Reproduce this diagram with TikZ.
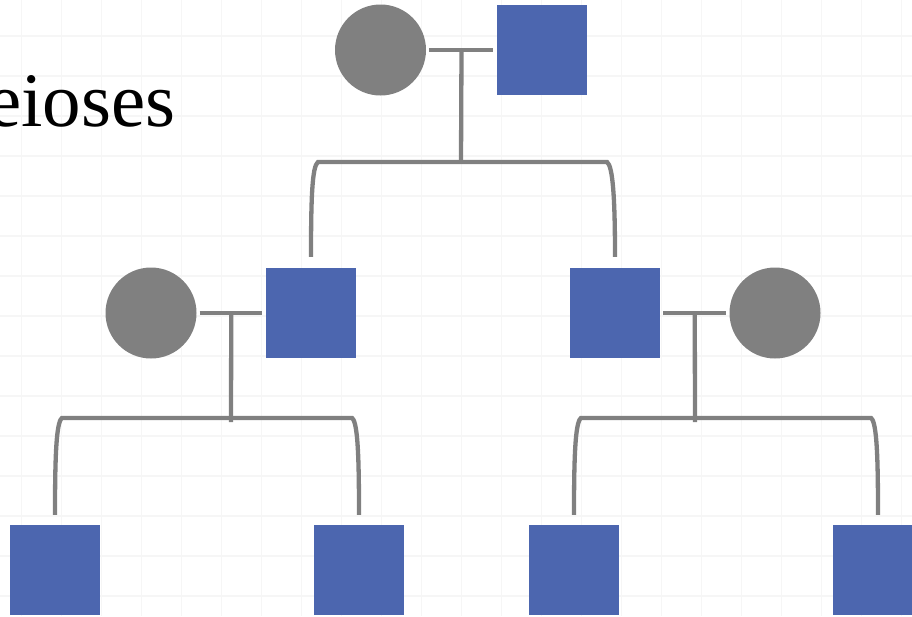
\documentclass[tikz,border=0pt]{standalone}
\usepackage{fontspec}
\setmainfont{Liberation Serif}
\definecolor{pblue}{HTML}{4C66AF}
\definecolor{pgray}{HTML}{808080}
\definecolor{gridc}{HTML}{F6F6F6}
\begin{document}
\begin{tikzpicture}[x=1pt,y=-1pt,
  male/.style={rectangle,fill=pblue,draw=none,minimum size=90pt,inner sep=0pt},
  female/.style={circle,fill=pgray,draw=none,minimum size=91pt,inner sep=0pt},
  link/.style={draw=pgray,line width=4.3pt},
  gridl/.style={draw=gridc,line width=1.5pt}]
\useasboundingbox (0,0) rectangle (912,616);
\fill[white] (0,0) rectangle (912,616);
% background grid
\foreach \gx in {21.7,61.7,...,912} {\draw[gridl] (\gx,0) -- (\gx,616);}
\foreach \gy in {36,76,...,616} {\draw[gridl] (0,\gy) -- (912,\gy);}
% title text
\node[anchor=base west,inner sep=0pt,font=\fontsize{77}{84}\selectfont] (title) at (-13,126) {eioses};
% generation 1
\node[female] (g1f) at (380.5,50) {};
\node[male] (g1m) at (542,50) {};
% generation 2
\node[female] (g2lf) at (151,313) {};
\node[male] (g2lm) at (311,313) {};
\node[male] (g2rm) at (615,313) {};
\node[female] (g2rf) at (775,313) {};
% generation 3
\node[male] (c1) at (55,570) {};
\node[male] (c2) at (359,570) {};
\node[male] (c3) at (574,570) {};
\node[male] (c4) at (878,570) {};
% marriage lines
\draw[link,shorten <=3pt,shorten >=4pt] (g1f.east) -- (g1m.west) coordinate[pos=0.5] (m1);
\draw[link,shorten <=3pt,shorten >=4pt] (g2lf.east) -- (g2lm.west) coordinate[pos=0.5] (m2);
\draw[link,shorten <=3pt,shorten >=3pt] (g2rm.east) -- (g2rf.west) coordinate[pos=0.5] (m3);
% descent lines
\coordinate (s1) at (461,162);
\coordinate (s2) at (231,422);
\coordinate (s3) at (695,422);
\draw[link] (m1) -- (s1);
\draw[link] (m2) -- (s2);
\draw[link] (m3) -- (s3);
% sibling bars
\coordinate (l1) at ([yshift=11pt]g2lm.north);
\coordinate (r1) at ([yshift=11pt]g2rm.north);
\draw[link] (l1) .. controls (311,200) and (312,166) .. (318,162) -- (607,162) .. controls (613,166) and (615,200) .. (r1);
\coordinate (l2) at ([yshift=10pt]c1.north);
\coordinate (r2) at ([yshift=10pt]c2.north);
\draw[link] (l2) .. controls (55,460) and (56,422) .. (62,418) -- (352,418) .. controls (358,422) and (359,460) .. (r2);
\coordinate (l3) at ([yshift=10pt]c3.north);
\coordinate (r3) at ([yshift=10pt]c4.north);
\draw[link] (l3) .. controls (574,460) and (575,422) .. (581,418) -- (871,418) .. controls (877,422) and (878,460) .. (r3);
\end{tikzpicture}
\end{document}
